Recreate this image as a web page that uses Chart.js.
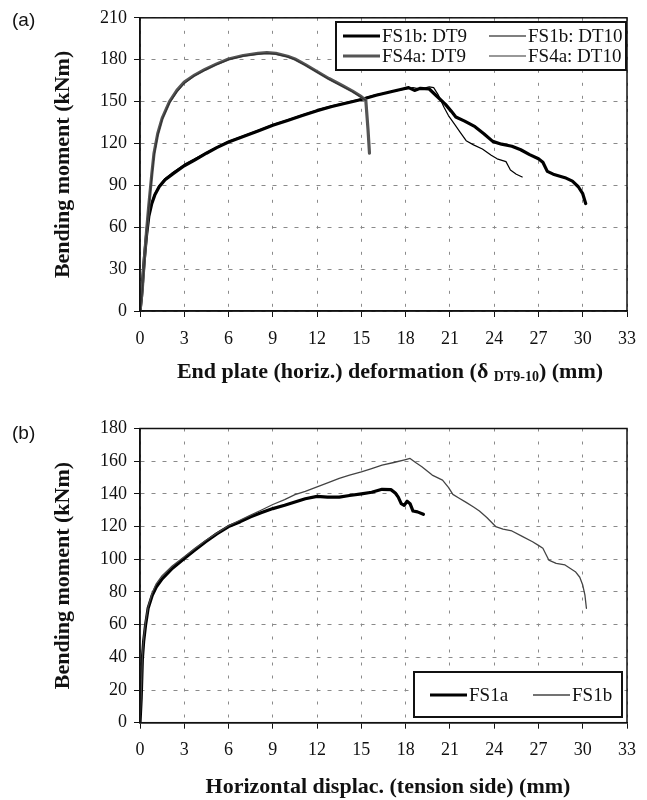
<!DOCTYPE html>
<html>
<head>
<meta charset="utf-8">
<script src="https://cdn.jsdelivr.net/npm/chart.js@4.4.0/dist/chart.umd.min.js"></script>
<style>
  body { margin: 0; background: #fff; }
  .panel { position: relative; width: 647px; height: 400px; }
  .tag { position: absolute; left: 12px; font: 19px "Liberation Sans", Arial, sans-serif; color: #111; }
  canvas { display: block; }
</style>
</head>
<body>
<div class="panel"><div class="tag" style="top:9px">(a)</div><canvas id="chartA" width="647" height="400"></canvas></div>
<div class="panel"><div class="tag" style="top:22px">(b)</div><canvas id="chartB" width="647" height="400"></canvas></div>
<script>
// (a) end plate deformation, kNm vs mm
const fs1bDt9X  = [0, 0.1, 0.2, 0.3, 0.45, 0.6, 0.8, 1.0, 1.3, 1.7, 2.2, 3, 3.7, 4.5, 5.2, 6, 7, 8, 9, 10, 11, 12, 13, 14, 15, 16, 17, 17.8, 18.2, 18.6, 19, 19.6, 20.1, 20.7, 21.1, 21.4, 22, 22.7, 23.3, 23.9, 24.5, 25.2, 25.8, 26.4, 27, 27.3, 27.6, 28, 28.8, 29.3, 29.7, 30, 30.2];
const fs1bDt9Y  = [0, 10, 25, 38, 55, 68, 77, 83, 89, 94, 98, 104, 108, 113, 117, 121, 125, 129, 133, 136.5, 140, 143.5, 146.5, 149, 151.5, 154.5, 157, 159, 160, 158, 159.5, 159, 154, 148, 143, 139, 136, 132, 127, 121.5, 119.5, 118, 115.5, 112, 109, 106.5, 100, 98, 95.5, 93, 89, 84, 77];
const fs1bDt10X = [0, 0.1, 0.2, 0.3, 0.45, 0.6, 0.8, 1.0, 1.3, 1.7, 2.2, 3, 3.7, 4.5, 5.2, 6, 7, 8, 9, 10, 11, 12, 13, 14, 15, 16, 17, 18, 18.5, 19, 19.6, 19.9, 20.2, 20.6, 20.9, 21.3, 21.7, 22.1, 22.6, 23.2, 23.8, 24.2, 24.8, 25.1, 25.5, 25.9];
const fs1bDt10Y = [0, 11, 26, 39, 56, 69, 78, 84, 90, 95, 99, 105, 109, 113.5, 117.5, 121.5, 125.5, 129.5, 133.5, 137, 140.5, 144, 147, 149.5, 152, 155, 157, 159, 160, 159, 160.5, 160, 155, 146, 140, 134, 128, 122, 119, 116, 111.5, 109, 107, 101, 98, 96];
const fs4aDt9X  = [0, 0.15, 0.3, 0.45, 0.6, 0.8, 0.95, 1.2, 1.5, 2, 2.5, 3, 3.7, 4.4, 5.2, 6, 7, 8, 8.6, 9.2, 10, 10.5, 11.2, 12, 12.8, 13.7, 14.4, 15, 15.3, 15.45, 15.55];
const fs4aDt9Y  = [0, 15, 38, 58, 76, 98, 113, 127, 138, 150, 158, 164, 169, 173, 177, 180.5, 183, 184.5, 185, 184.5, 182.5, 180.5, 176.5, 171.5, 166.5, 161.5, 157.5, 153.5, 151, 130, 113];
const fs4aDt10X = [0, 0.15, 0.3, 0.45, 0.6, 0.8, 0.95, 1.2, 1.5, 2, 2.5, 3, 3.7, 4.4, 5.2, 6, 7, 8, 8.6, 9.2, 10, 10.5, 11.2, 12, 12.8, 13.7, 14.4, 15, 15.3];
const fs4aDt10Y = [0, 14, 36, 56, 74, 96, 111, 125.5, 137, 149, 157, 163, 168.5, 172.5, 176.5, 180, 182.5, 184, 184.5, 184, 182, 180, 176, 171, 166, 161, 157, 153, 151];

// (b) horizontal displacement, tension side
const fs1aX = [0, 0.08, 0.16, 0.25, 0.38, 0.55, 0.83, 1.1, 1.5, 2.2, 3, 3.7, 4.45, 5.2, 6, 6.8, 7.5, 8.2, 9, 9.8, 10.5, 11.2, 12, 12.7, 13.5, 14.2, 15, 15.7, 16.4, 17, 17.3, 17.5, 17.7, 17.9, 18.1, 18.3, 18.5, 18.8, 19.2];
const fs1aY = [0, 15, 39, 50, 60, 70, 78, 83, 88, 94.5, 100.5, 105.5, 110.7, 115.5, 120, 123, 126, 128.5, 131, 133, 135, 137, 138.5, 138, 138, 139, 140, 141, 142.8, 142.6, 140.5, 138, 134, 133, 135.5, 134, 129.5, 129, 127.5];
const fs1bX = [0, 0.08, 0.16, 0.25, 0.38, 0.55, 0.83, 1.1, 1.5, 2.2, 3, 3.7, 4.45, 5.2, 6, 6.8, 7.5, 8.2, 9, 9.8, 10.5, 11.2, 12, 12.8, 13.5, 14.2, 15, 15.7, 16.4, 17.2, 18, 18.3, 18.7, 19.1, 19.8, 20.5, 20.9, 21.2, 21.6, 22.1, 22.6, 23, 23.5, 24.1, 24.6, 25.2, 25.9, 26.6, 27, 27.3, 27.7, 28.2, 28.8, 29.5, 29.8, 30, 30.15, 30.25];
const fs1bY = [0, 17, 40, 52, 62, 71, 79.5, 85, 90, 96, 101.5, 106.5, 111.5, 116, 120.5, 124, 127, 130, 133.5, 136.5, 139.5, 141.5, 144.3, 147, 149.5, 151.5, 153.5, 155.5, 157.6, 159.2, 161, 161.7, 159, 156.6, 151.5, 148.4, 144, 139.7, 137.5, 134.8, 132, 129.5, 125.5, 120, 118.5, 117.3, 114, 110.7, 108.5, 106.7, 99.5, 97.5, 96.5, 92.4, 89, 84.2, 78, 70];

const pts = (xs, ys) => xs.map((x, i) => ({ x: x, y: ys[i] }));

const serif = '"Liberation Serif", "Times New Roman", serif';
const tickFont = { family: serif, size: 18 };
const titleFont = { family: serif, size: 22, weight: 'bold' };

// box round the plot area
const frame = {
  id: 'frame',
  afterDatasetsDraw(chart) {
    const { ctx, chartArea: a } = chart;
    ctx.save();
    ctx.strokeStyle = '#111';
    ctx.lineWidth = 1.5;
    ctx.strokeRect(a.left, a.top, a.right - a.left, a.bottom - a.top);
    ctx.restore();
  }
};

// legend drawn inside the plot, in a box
const boxLegend = {
  id: 'boxLegend',
  afterDraw(chart, args, opts) {
    const ctx = chart.ctx;
    ctx.save();
    ctx.fillStyle = '#fff';
    ctx.fillRect(opts.x, opts.y, opts.w, opts.h);
    ctx.strokeStyle = '#111';
    ctx.lineWidth = 2;
    ctx.strokeRect(opts.x, opts.y, opts.w, opts.h);
    ctx.font = '19px ' + serif;
    ctx.textBaseline = 'middle';
    chart.data.datasets.forEach((ds, i) => {
      const p = opts.slots[i];
      ctx.strokeStyle = ds.borderColor;
      ctx.lineWidth = ds.borderWidth;
      ctx.beginPath();
      ctx.moveTo(p[0], p[1]);
      ctx.lineTo(p[0] + 37, p[1]);
      ctx.stroke();
      ctx.fillStyle = '#111';
      ctx.fillText(ds.label, p[0] + 39, p[1] + 1);
    });
    ctx.restore();
  }
};

// x title with a subscript part
const xTitle = {
  id: 'xTitle',
  afterDraw(chart, args, opts) {
    const ctx = chart.ctx;
    ctx.save();
    ctx.fillStyle = '#111';
    ctx.textBaseline = 'alphabetic';
    let total = 0;
    opts.parts.forEach(p => { ctx.font = p.font; total += ctx.measureText(p.text).width; });
    let x = opts.cx - total / 2;
    opts.parts.forEach(p => {
      ctx.font = p.font;
      ctx.fillText(p.text, x, opts.baseline + (p.dy || 0));
      x += ctx.measureText(p.text).width;
    });
    ctx.restore();
  }
};

function makeScales(yMax, yStep, xHeight) {
  return {
    x: {
      type: 'linear', min: 0, max: 33,
      ticks: { stepSize: 3, padding: 11, color: '#111', font: tickFont, maxRotation: 0, autoSkip: false },
      grid: { color: '#8a8a8a', lineWidth: 1, tickColor: '#111', tickLength: 6 },
      border: { color: '#111', width: 1.5, dash: [3, 10] },
      afterFit(scale) { scale.height = xHeight; }
    },
    y: {
      type: 'linear', min: 0, max: yMax,
      ticks: { stepSize: yStep, padding: 7, color: '#111', font: tickFont, autoSkip: false },
      grid: { color: '#8a8a8a', lineWidth: 1, tickColor: '#111', tickLength: 6 },
      border: { color: '#111', width: 1.5, dash: [4, 7] },
      title: { display: true, text: 'Bending moment (kNm)', color: '#111', font: titleFont, padding: { top: 50, bottom: 0 } },
      afterFit(scale) { scale.width = 140; }
    }
  };
}

function line(label, data, color, width, order) {
  return {
    label: label, data: data, showLine: true, borderColor: color, backgroundColor: color,
    borderWidth: width, pointRadius: 0, tension: 0, borderJoinStyle: 'round', borderCapStyle: 'round', order: order
  };
}

new Chart(document.getElementById('chartA').getContext('2d'), {
  type: 'scatter',
  data: {
    datasets: [
      line('FS1b: DT9', pts(fs1bDt9X, fs1bDt9Y), '#000', 3.2, 2),
      line('FS1b: DT10', pts(fs1bDt10X, fs1bDt10Y), '#000', 1.2, 1),
      line('FS4a: DT9', pts(fs4aDt9X, fs4aDt9Y), '#555', 3.2, 0),
      line('FS4a: DT10', pts(fs4aDt10X, fs4aDt10Y), '#333', 1.2, -1)
    ]
  },
  options: {
    responsive: false, animation: false,
    layout: { padding: { top: 15, right: 19, left: 0, bottom: 0 } },
    scales: makeScales(210, 30, 89),
    plugins: {
      legend: { display: false }, tooltip: { enabled: false },
      boxLegend: { x: 336, y: 22, w: 290, h: 48, slots: [[343, 36], [489, 36], [343, 56], [489, 56]] },
      xTitle: {
        cx: 390, baseline: 378,
        parts: [
          { text: 'End plate (horiz.) deformation (\u03b4 ', font: 'bold 22px ' + serif },
          { text: 'DT9-10', font: 'bold 14px ' + serif, dy: 3 },
          { text: ') (mm)', font: 'bold 22px ' + serif }
        ]
      }
    }
  },
  plugins: [frame, boxLegend, xTitle]
});

new Chart(document.getElementById('chartB').getContext('2d'), {
  type: 'scatter',
  data: {
    datasets: [
      line('FS1a', pts(fs1aX, fs1aY), '#000', 3.2, 1),
      line('FS1b', pts(fs1bX, fs1bY), '#444', 1.3, 0)
    ]
  },
  options: {
    responsive: false, animation: false,
    layout: { padding: { top: 28.5, right: 19, left: 0, bottom: 0 } },
    scales: makeScales(180, 20, 77.3),
    plugins: {
      legend: { display: false }, tooltip: { enabled: false },
      boxLegend: { x: 414, y: 272, w: 208, h: 45, slots: [[430, 295], [533, 295]] },
      xTitle: {
        cx: 388, baseline: 393,
        parts: [{ text: 'Horizontal displac. (tension side) (mm)', font: 'bold 22px ' + serif }]
      }
    }
  },
  plugins: [frame, boxLegend, xTitle]
});
</script>
</body>
</html>
